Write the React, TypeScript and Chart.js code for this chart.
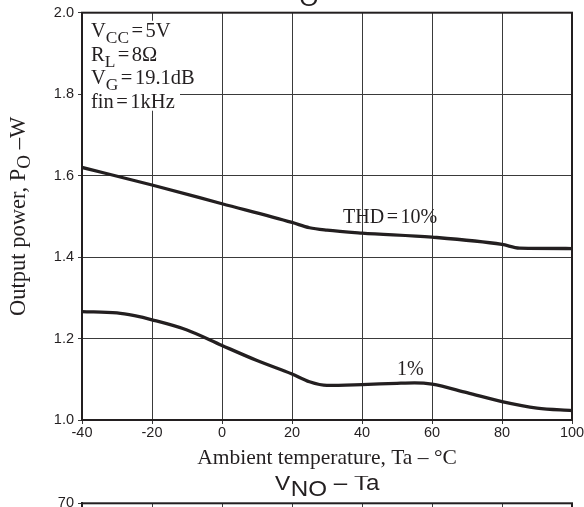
import React, { useEffect, useRef } from "react";
import { Chart, registerables } from "chart.js";

Chart.register(...registerables);

// ---- data ----
const tempTicks = [-40, -20, 0, 20, 40, 60, 80, 100];
const powerTicks = [1.0, 1.2, 1.4, 1.6, 1.8, 2.0];
const vnoTicks = [0, 10, 20, 30, 40, 50, 60, 70];

const thd10Temps = [-40, -20, 0, 20, 25, 30, 40, 60, 80, 85, 100];
const thd10Power = [1.62, 1.577, 1.531, 1.485, 1.472, 1.466, 1.459, 1.449, 1.431, 1.422, 1.421];

const thd1Temps = [-40, -30, -25, -20, -10, 0, 10, 20, 25, 30, 40, 50, 55, 60, 70, 80, 90, 100];
const thd1Power = [1.266, 1.263, 1.256, 1.246, 1.221, 1.183, 1.146, 1.113, 1.094, 1.085, 1.087, 1.09, 1.091, 1.088, 1.067, 1.045, 1.029, 1.023];

const conditionLines = ["V{CC}=5V", "R{L}=8Ω", "V{G}=19.1dB", "fin=1kHz"];
const curveLabels = ["THD=10%", "1%"];
const yTitle = "Output power, P{O} –W";
const xTitle = "Ambient temperature, Ta – °C";
const topTitle = "P{O} – Ta";
const vnoTitle = "V{NO} – Ta";

// ---- styles ----
const INK = "#231f20";
const GRID = "#3a3a3a";
const SERIF = '"Liberation Serif", "Times New Roman", serif';
const SANS = '"Liberation Sans", Arial, sans-serif';
const W = 600;
const H1 = 476;
const H2 = 300;

type Seg = { t: string; sub: boolean; pad: number };

function parse(s: string): Seg[] {
  const out: Seg[] = [];
  const re = /\{([^}]*)\}|=|[^{=]+/g;
  let m: RegExpExecArray | null;
  while ((m = re.exec(s))) {
    if (m[1] !== undefined) out.push({ t: m[1], sub: true, pad: 0 });
    else if (m[0] === "=") out.push({ t: "=", sub: false, pad: 2.5 });
    else out.push({ t: m[0], sub: false, pad: 0 });
  }
  return out;
}

function drawRich(
  ctx: CanvasRenderingContext2D,
  text: string,
  x: number,
  y: number,
  o: { size: number; family: string; sx?: number; sy?: number; subScale?: number; subShift?: number; align?: string }
) {
  const segs = parse(text);
  const sx = o.sx ?? 1;
  const sy = o.sy ?? 1;
  const subScale = o.subScale ?? 0.85;
  const subShift = o.subShift ?? 6;
  const fontFor = (s: Seg) => `${s.sub ? o.size * subScale : o.size}px ${o.family}`;
  let total = 0;
  const widths = segs.map((s) => {
    ctx.font = fontFor(s);
    const w = ctx.measureText(s.t).width * sx + 2 * s.pad;
    total += w;
    return w;
  });
  let cx = o.align === "center" ? x - total / 2 : x;
  ctx.fillStyle = INK;
  ctx.textBaseline = "alphabetic";
  ctx.textAlign = "left";
  segs.forEach((s, i) => {
    ctx.font = fontFor(s);
    ctx.save();
    ctx.translate(cx + s.pad, y + (s.sub ? subShift : 0));
    ctx.scale(sx, sy);
    ctx.fillText(s.t, 0, 0);
    ctx.restore();
    cx += widths[i];
  });
}

const titleStyle = {
  size: 22,
  family: SANS,
  align: "center",
  sx: 1.1,
  subScale: 1,
  subShift: 6,
};

const mainDecor = {
  id: "mainDecor",
  beforeDatasetsDraw(chart: any) {
    const { ctx, chartArea: a } = chart;
    ctx.save();
    ctx.fillStyle = "#fff";
    ctx.fillRect(a.left + 1, a.top + 8, 97, 90);
    ctx.strokeStyle = INK;
    ctx.lineWidth = 2;
    ctx.strokeRect(a.left, a.top, a.right - a.left, a.bottom - a.top);
    ctx.restore();
  },
  afterDraw(chart: any) {
    const { ctx, chartArea: a, scales } = chart;
    ctx.save();
    conditionLines.forEach((line, i) => {
      drawRich(ctx, line, a.left + 9, a.top + 24 + i * 23.8, { size: 20.5, family: SERIF });
    });
    drawRich(ctx, curveLabels[0], scales.x.getPixelForValue(34.6), scales.y.getPixelForValue(1.483), {
      size: 20,
      family: SERIF,
    });
    drawRich(ctx, curveLabels[1], scales.x.getPixelForValue(50), scales.y.getPixelForValue(1.11), {
      size: 20,
      family: SERIF,
    });
    drawRich(ctx, xTitle, (a.left + a.right) / 2, a.bottom + 44, { size: 21.5, family: SERIF, align: "center" });
    ctx.save();
    ctx.translate(a.left - 57, (a.top + a.bottom) / 2);
    ctx.rotate(-Math.PI / 2);
    drawRich(ctx, yTitle, 0, 0, { size: 22.5, family: SERIF, align: "center", subShift: 5 });
    ctx.restore();
    drawRich(ctx, topTitle, (a.left + a.right) / 2, a.top - 13, titleStyle);
    ctx.restore();
  },
};

const vnoDecor = {
  id: "vnoDecor",
  afterDraw(chart: any) {
    const { ctx, chartArea: a } = chart;
    ctx.save();
    ctx.strokeStyle = INK;
    ctx.lineWidth = 2;
    ctx.strokeRect(a.left, a.top, a.right - a.left, a.bottom - a.top);
    drawRich(ctx, vnoTitle, (a.left + a.right) / 2, a.top - 13, titleStyle);
    ctx.restore();
  },
};

const tickFont = { family: SANS, size: 14.5 };

export default function App() {
  const ref1 = useRef<HTMLCanvasElement>(null);
  const ref2 = useRef<HTMLCanvasElement>(null);

  useEffect(() => {
    const line = (xs: number[], ys: number[]) => ({
      data: xs.map((x, i) => ({ x, y: ys[i] })),
      borderColor: INK,
      borderWidth: 3.3,
      pointRadius: 0,
      cubicInterpolationMode: "monotone" as const,
      fill: false,
    });
    const c1 = new Chart(ref1.current!, {
      type: "line",
      data: {
        datasets: [
          { label: "THD=10%", ...line(thd10Temps, thd10Power) },
          { label: "1%", ...line(thd1Temps, thd1Power) },
        ],
      },
      options: {
        responsive: false,
        animation: false,
        events: [],
        layout: { padding: { top: 12, right: W - 572, left: 0, bottom: 0 } },
        plugins: { legend: { display: false }, tooltip: { enabled: false }, title: { display: false } },
        scales: {
          x: {
            type: "linear",
            min: -40,
            max: 100,
            afterBuildTicks: (s: any) => {
              s.ticks = tempTicks.map((v) => ({ value: v }));
            },
            afterFit: (s: any) => {
              s.height = H1 - 420;
            },
            grid: { color: GRID, lineWidth: 1, tickLength: 4, drawTicks: true },
            border: { display: true, color: INK, width: 2 },
            ticks: { font: tickFont, color: INK, padding: 0, maxRotation: 0, autoSkip: false, callback: (v: any) => String(v) },
          },
          y: {
            type: "linear",
            min: 1.0,
            max: 2.0,
            afterBuildTicks: (s: any) => {
              s.ticks = powerTicks.map((v) => ({ value: v }));
            },
            afterFit: (s: any) => {
              s.width = 82;
            },
            grid: { color: GRID, lineWidth: 1, tickLength: 4, drawTicks: true },
            border: { display: true, color: INK, width: 2 },
            ticks: { font: tickFont, color: INK, padding: 4, autoSkip: false, callback: (v: any) => Number(v).toFixed(1) },
          },
        },
      },
      plugins: [mainDecor],
    });

    const c2 = new Chart(ref2.current!, {
      type: "line",
      data: { datasets: [] },
      options: {
        responsive: false,
        animation: false,
        events: [],
        layout: { padding: { top: 27.3, right: W - 572, left: 0, bottom: 0 } },
        plugins: { legend: { display: false }, tooltip: { enabled: false } },
        scales: {
          x: {
            type: "linear",
            min: -40,
            max: 100,
            afterBuildTicks: (s: any) => {
              s.ticks = tempTicks.map((v) => ({ value: v }));
            },
            grid: { color: GRID, lineWidth: 1, tickLength: 4 },
            border: { display: true, color: INK, width: 2 },
            ticks: { display: false },
          },
          y: {
            type: "linear",
            min: 0,
            max: 70,
            afterBuildTicks: (s: any) => {
              s.ticks = vnoTicks.map((v) => ({ value: v }));
            },
            afterFit: (s: any) => {
              s.width = 82;
            },
            grid: { color: GRID, lineWidth: 1, tickLength: 4 },
            border: { display: true, color: INK, width: 2 },
            ticks: { font: tickFont, color: INK, padding: 4, autoSkip: false },
          },
        },
      },
      plugins: [vnoDecor],
    });

    return () => {
      c1.destroy();
      c2.destroy();
    };
  }, []);

  return (
    <div
      style={{
        position: "absolute",
        left: 0,
        top: 0,
        width: 584,
        height: 507,
        overflow: "hidden",
        background: "#fff",
      }}
    >
      <canvas ref={ref1} width={W} height={H1} style={{ position: "absolute", left: 0, top: 0, width: W, height: H1 }} />
      <canvas ref={ref2} width={W} height={H2} style={{ position: "absolute", left: 0, top: H1, width: W, height: H2 }} />
    </div>
  );
}
